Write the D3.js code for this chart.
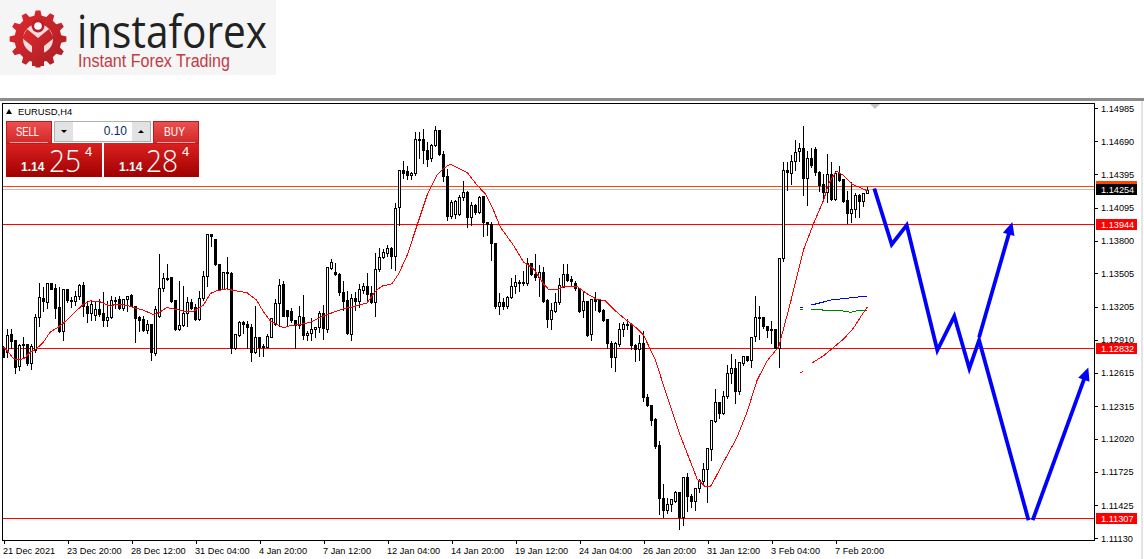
<!DOCTYPE html>
<html><head><meta charset="utf-8">
<script src="https://cdn.jsdelivr.net/npm/d3@7"></script>
<style>
html,body{margin:0;padding:0;background:#fff;overflow:hidden}
svg{display:block}
text{font-family:"Liberation Sans",Arial,sans-serif}
</style></head><body><svg id="c" width="1144" height="559"></svg>
<script>
// Values are points above 1.11000 (1 point = 0.00001)
const base = 1.11;
const open = [1845,1800,1959,1905,1671,1869,1866,1701,1815,2109,
2280,2241,2415,2370,2199,1980,2364,2265,2250,2295,
2400,2211,2145,2130,2181,2145,2079,2109,2265,2274,
2190,2271,2310,2211,2109,2091,1995,2046,1791,2115,
2370,2454,2466,2259,2004,2034,2145,2244,2199,2094,
2280,2481,2856,2805,2589,2361,2517,2505,1830,1950,
2061,2046,2019,1794,1929,1851,1845,1929,2049,2235,
2409,2175,2163,2085,2040,2112,1947,1962,1998,2016,
2142,2001,2553,2511,2496,2337,2262,1956,2277,2256,
2352,2388,2322,2247,2538,2652,2682,2727,2661,3093,
3432,3417,3387,3402,3708,3708,3606,3537,3657,3783,
3576,3378,3012,3036,3036,3186,3231,3006,3111,3048,
3192,2961,2943,2778,2211,2244,2211,2292,2391,2421,
2427,2412,2592,2496,2466,2511,2262,2091,2166,2241,
2382,2493,2448,2418,2367,2172,2253,1956,2273,2261,
2171,2093,1877,1751,1871,2003,2051,2045,1862,1823,
1877,1391,1322,1193,962,482,383,437,461,536,
317,677,506,455,572,641,743,923,1181,1343,
1253,1403,1607,1652,1442,1697,1763,1727,1937,2111,
2111,2033,1999,2003,1835,2642,3431,3401,3512,3596,
3626,3356,3536,3617,3413,3305,3227,3392,3167,3401,
3347,3161,3047,3077,3206,3146,3221];
const high = [1860,2010,2010,1905,1875,1935,1875,1875,2145,2421,
2385,2415,2415,2415,2385,2361,2370,2301,2355,2415,
2430,2265,2265,2265,2280,2340,2259,2310,2301,2310,
2280,2310,2325,2211,2130,2130,2091,2055,2220,2685,
2511,2595,2466,2265,2445,2400,2295,2280,2235,2355,
2535,2856,2865,2805,2595,2520,2655,2520,1959,2085,
2085,2085,2055,2220,1941,1875,1965,2100,2280,2460,
2445,2181,2199,2091,2220,2316,1992,2112,2028,2172,
2226,2571,2643,2601,2517,2442,2352,2322,2346,2412,
2421,2511,2397,2691,2742,2727,2766,2748,3138,3438,
3522,3477,3417,3777,3777,3807,3687,3672,3828,3792,
3606,3447,3168,3168,3216,3342,3252,3147,3132,3207,
3207,2967,2967,2778,2337,2292,2307,2472,2496,2448,
2532,2646,2607,2682,2586,2571,2277,2247,2337,2466,
2592,2592,2487,2442,2373,2352,2262,2277,2342,2282,
2192,2102,1907,1892,2063,2072,2102,2057,1877,1961,
1997,1427,1331,1211,1007,617,491,482,557,542,
683,722,527,572,662,812,932,1193,1472,1352,
1451,1691,1787,1742,1712,1772,1772,1937,2303,2213,
2117,2042,2087,2012,2636,3512,3506,3572,3710,3680,
3836,3611,3635,3641,3431,3401,3581,3506,3431,3476,
3356,3245,3326,3227,3221,3227,3287];
const low = [1749,1755,1830,1605,1635,1740,1680,1641,1800,2025,
2160,2190,2364,2100,1971,1905,2241,2199,2220,2271,
2115,2061,2085,2085,2121,2025,2025,2100,2190,2184,
2175,2160,2205,1890,1980,1980,1965,1725,1770,2109,
2340,2445,2241,1995,1995,2025,2025,2181,2085,2085,
2265,2385,2751,2580,2355,2361,2370,1791,1821,1941,
1965,1830,1719,1785,1761,1761,1845,1929,2040,2025,
2115,2040,2061,1830,2010,1917,1902,1908,1932,1977,
1917,1977,2538,2487,2307,2172,1956,1902,2172,2196,
2322,2262,2232,2118,2526,2637,2658,2547,2532,2937,
3357,3348,3348,3387,3537,3492,3468,3507,3648,3567,
3327,2976,2997,2997,3027,3162,2916,2937,3036,3042,
2838,2847,2622,2187,2136,2178,2187,2277,2322,2346,
2397,2397,2487,2442,2298,2247,2016,1998,2157,2226,
2376,2436,2391,2352,2157,2106,1938,1908,2171,2153,
2072,1832,1658,1622,1853,1937,2003,1823,1712,1727,
1352,1316,1142,932,341,317,353,371,452,212,
242,371,407,377,542,602,452,827,1172,1202,
1241,1382,1517,1337,1421,1682,1712,1658,1892,1913,
2012,1928,1877,1832,1661,2615,3251,3305,3431,3506,
3206,3110,3455,3386,3236,3146,3137,3161,3161,3326,
3137,2957,2966,3011,3005,3107,3221];
const close = [1755,1950,1899,1665,1860,1860,1701,1851,2109,2289,
2250,2415,2364,2190,1980,2361,2259,2250,2295,2400,
2205,2145,2229,2181,2139,2079,2109,2265,2259,2190,
2274,2301,2211,2100,2079,1995,2046,1794,2181,2370,
2460,2460,2250,2004,2034,2145,2244,2190,2094,2280,
2481,2856,2835,2589,2364,2514,2505,1830,1959,2064,
2046,2019,1794,1929,1845,1845,1935,2100,2235,2400,
2121,2121,2085,2040,2121,1947,1968,1998,2016,2142,
2007,2556,2601,2493,2337,2256,1962,2277,2256,2358,
2388,2316,2247,2538,2646,2691,2727,2661,3087,3432,
3402,3381,3402,3708,3705,3606,3528,3657,3783,3576,
3372,3012,3141,3147,3186,3231,3006,3111,3048,3186,
2958,2940,2778,2208,2247,2211,2292,2391,2427,2427,
2412,2592,2496,2466,2511,2256,2091,2172,2241,2397,
2493,2442,2436,2367,2166,2253,1947,2268,2252,2162,
2087,1877,1751,1877,2003,2051,2042,1862,1823,1877,
1391,1322,1187,956,488,383,437,473,536,317,
677,506,461,572,647,743,932,1187,1343,1253,
1403,1607,1652,1442,1706,1763,1721,1931,2111,2108,
2027,1991,1991,1832,2636,3431,3410,3512,3590,3626,
3356,3536,3476,3407,3296,3227,3392,3170,3401,3341,
3152,3047,3077,3206,3146,3221,3248];

// Moving average: [bar index, points]
const maPoints = [[0,1845],[1.25,1800],[2.5,1740],[4.2,1731],[5.4,1749],[6.7,1800],[8,1821],[10,1890],[11.7,1980],[13.75,2025],
[15.8,2085],[17.9,2160],[20,2229],[21.7,2259],[24.2,2250],[26.7,2211],[28,2229],[30.8,2220],[32.5,2199],[35,2175],
[37.5,2136],[39.2,2160],[40.8,2199],[43,2184],[45,2166],[47.5,2166],[50,2220],[51.7,2325],[53.3,2349],[55.8,2367],
[57.5,2352],[60.8,2334],[63.3,2265],[65,2160],[66.7,2079],[70,2016],[71.7,2037],[73.8,2046],[76.7,2067],[79.2,2112],
[82.5,2157],[85,2187],[87.5,2208],[90.9,2241],[93,2346],[94.6,2391],[97.1,2412],[98.8,2502],[100.9,2667],[103.4,2937],
[105.9,3207],[108.4,3387],[110,3447],[111.7,3486],[113.4,3453],[115.9,3411],[118.4,3297],[120.5,3216],[122.5,3072],[124.2,2922],
[127.5,2757],[130,2607],[132.5,2547],[135,2412],[136.3,2361],[138.4,2358],[140,2388],[143.4,2388],[145.9,2322],[148.4,2271],
[150.45,2261],[152.95,2171],[155.45,2093],[158.4,2012],[160,1952],[163,1727],[165,1502],[167.1,1277],[169.2,1052],[171.3,857],
[173.4,662],[175.45,593],[176.9,599],[180,812],[183.4,1037],[185.9,1262],[188.4,1547],[190.9,1721],[193.8,1847],[196.7,2237],
[200,2717],[202.5,2951],[205,3161],[206.3,3311],[208.2,3422],[210,3386],[212.1,3305],[214.2,3275],[216,3245]];

// Indicator fragments near the last bars
const blueDash = [[199,2201],[199.9,2201]];
const blueCurve = [[202,2222],[204.7,2246],[207,2267],[210,2279],[213,2291],[216,2303]];
const greenDash = [[199,2186],[199.9,2186]];
const greenCurve = [[202,2186],[204.6,2180],[205,2171],[210,2168],[211.9,2156],[213,2168],[216,2171]];
const redDash = [[199,1610],[199.9,1625]];
const redCurve = [[202,1700],[205,1766],[207.5,1841],[210,1916],[212.5,2015],[214.2,2111],[216,2207]];

// Hand-drawn forecast
const forecastA = [[217.7,3267],[222.05,2765],[225.8,2938],[233.45,1816],[237.7,2121],[241.45,1652],[243.9,1906],[256.25,292]];
const forecastB = [[243.9,1933],[252.2,2967]];
const forecastC = [[257.3,292],[271.2,1661]];

const levels = [1.13944,1.12832,1.11307];
const askPrice = 1.14284, bidPrice = 1.14254;
const priceTicks = [1.14985,1.14690,1.14395,1.14095,1.13800,1.13505,1.13205,1.12910,1.12615,1.12315,1.12020,1.11725,1.11425,1.11130];
const timeIdx = [0,16,32,48,64,80,96,112,128,144,160,176,192,208];
const timeLabels = ["21 Dec 2021","23 Dec 20:00","28 Dec 12:00","31 Dec 04:00","4 Jan 20:00","7 Jan 12:00","12 Jan 04:00","14 Jan 20:00","19 Jan 12:00","24 Jan 04:00","26 Jan 20:00","31 Jan 12:00","3 Feb 04:00","7 Feb 20:00"];

const svg = d3.select("#c");
const pr = p => base + p/1e5;
const x = d3.scaleLinear().domain([0,216]).range([3.5,867.5]);
const y = d3.scaleLinear().domain([1.13944,1.11307]).range([224.5,518.5]);
const cy = v => Math.floor(y(v)) + .5;

// ---- logo ----
const logo = svg.append("g");
logo.append("rect").attr("width",276).attr("height",75).attr("fill","#f5f5f5");
const defs = svg.append("defs");
const g1 = defs.append("linearGradient").attr("id","gear").attr("x1",0).attr("y1",0).attr("x2",1).attr("y2",1);
g1.append("stop").attr("offset",0).attr("stop-color","#e02a2e");
g1.append("stop").attr("offset",1).attr("stop-color","#a81e24");
const gearPts = [], teeth = 12;
for (let t=0;t<teeth;t++){
  const a = t/teeth*2*Math.PI - Math.PI/2, w = 2*Math.PI/teeth;
  [[-.30,23.5],[-.16,28.5],[.16,28.5],[.30,23.5]].forEach(([f,r]) => gearPts.push([38+r*Math.cos(a+f*w), 39+r*Math.sin(a+f*w)]));
}
logo.append("polygon").attr("points",gearPts.join(" ")).attr("fill","url(#gear)");
logo.append("circle").attr("cx",38).attr("cy",39).attr("r",15).attr("fill","#f4dcdc");
logo.append("path").attr("d","M32 66 L32 46 L22 38 L27 29 L38 38 L49 29 L54 38 L44 46 L44 66 Z").attr("fill","url(#gear)");
logo.append("circle").attr("cx",38).attr("cy",26).attr("r",6.5).attr("fill","#b8202a");
logo.append("circle").attr("cx",38).attr("cy",26).attr("r",3.8).attr("fill","#fff");
logo.append("text").attr("x",77).attr("y",48).attr("textLength",190).attr("lengthAdjust","spacingAndGlyphs")
  .attr("font-size",46).attr("fill","#222").style("font-family","'Open Sans'").style("font-weight",400).text("instaforex");
logo.append("text").attr("x",78).attr("y",67).attr("textLength",152).attr("lengthAdjust","spacingAndGlyphs")
  .attr("font-size",17.5).attr("fill","#c23a44").style("font-family","'Liberation Sans'").text("Instant Forex Trading");

// ---- frame ----
svg.append("rect").attr("x",0).attr("y",98).attr("width",1144).attr("height",3).attr("fill","#8c8c8c");
svg.append("rect").attr("x",1141).attr("y",101).attr("width",2).attr("height",458).attr("fill","#e4e4e4");
const frame = svg.append("g").attr("shape-rendering","crispEdges");
frame.append("line").attr("x1",2).attr("x2",1095).attr("y1",103.5).attr("y2",103.5).attr("stroke","#000");
frame.append("line").attr("x1",2.5).attr("x2",2.5).attr("y1",103).attr("y2",541).attr("stroke","#000");
frame.append("line").attr("x1",1094.5).attr("x2",1094.5).attr("y1",103).attr("y2",541).attr("stroke","#000");
svg.append("path").attr("d","M870 104 L880 104 L875 109 Z").attr("fill","#c4c4c4");

// ---- horizontal lines, behind the candles ----
const hl = svg.append("g").attr("shape-rendering","crispEdges");
hl.selectAll("line.lv").data(levels).join("line").attr("class","lv").attr("x1",3).attr("x2",1094)
  .attr("y1",d=>cy(d)).attr("y2",d=>cy(d)).attr("stroke","#ff0000");
hl.append("line").attr("x1",3).attr("x2",1094).attr("y1",cy(askPrice)).attr("y2",cy(askPrice)).attr("stroke","#ff4500");
hl.append("line").attr("x1",3).attr("x2",1094).attr("y1",cy(bidPrice)).attr("y2",cy(bidPrice)).attr("stroke","#c0c0c0");

// ---- candles ----
const bars = d3.range(open.length);
const cg = svg.append("g").attr("shape-rendering","crispEdges");
cg.selectAll("line").data(bars).join("line")
  .attr("x1",i=>x(i)).attr("x2",i=>x(i))
  .attr("y1",i=>cy(pr(high[i]))).attr("y2",i=>cy(pr(low[i]))).attr("stroke","#000");
cg.selectAll("rect").data(bars).join("rect")
  .attr("x",i=>x(i)-1).attr("width",2)
  .attr("y",i=>cy(pr(Math.max(open[i],close[i]))))
  .attr("height",i=>Math.max(1,cy(pr(Math.min(open[i],close[i])))-cy(pr(Math.max(open[i],close[i])))))
  .attr("fill",i=>close[i]>open[i]?"#fff":"#000").attr("stroke","#000");

// ---- moving average & indicators ----
const ln = d3.line().x(d=>x(d[0])).y(d=>y(pr(d[1])));
const thin = (d,c) => svg.append("path").attr("d",ln(d)).attr("fill","none").attr("stroke",c).attr("stroke-width",1).attr("shape-rendering","crispEdges");
thin(maPoints,"#ff0000");
thin(blueDash,"#0000ff"); thin(blueCurve,"#0000ff");
thin(greenDash,"#008000"); thin(greenCurve,"#008000");
thin(redDash,"#ff0000"); thin(redCurve,"#ff0000");

// ---- forecast ----
const thick = d => svg.append("path").attr("d",ln(d)).attr("fill","none").attr("stroke","#0000ff").attr("stroke-width",3.8).attr("stroke-linejoin","miter");
thick(forecastA);
const arrow = d => {
  const [a,b] = d, tx=x(b[0]), ty=y(pr(b[1])), ax=x(a[0]), ay=y(pr(a[1]));
  const L=Math.hypot(tx-ax,ty-ay), ux=(tx-ax)/L, uy=(ty-ay)/L;
  const bx=tx-ux*13, by=ty-uy*13;
  svg.append("path").attr("d",ln([a,[a[0]+(b[0]-a[0])*(1-8/L),a[1]+(b[1]-a[1])*(1-8/L)]])).attr("fill","none").attr("stroke","#0000ff").attr("stroke-width",3.8);
  svg.append("path").attr("d",`M${tx} ${ty} L${bx-uy*6} ${by+ux*6} L${bx+uy*6} ${by-ux*6} Z`).attr("fill","#0000ff");
};
arrow(forecastB); arrow(forecastC);

// ---- axes ----
const yAxis = d3.axisRight(y).tickValues(priceTicks).tickSize(3).tickPadding(3).tickFormat(d3.format(".5f"));
const ga = svg.append("g").attr("transform","translate(1095,0)").call(yAxis);
ga.select(".domain").remove();
ga.selectAll("line").attr("stroke","#000").attr("shape-rendering","crispEdges");
ga.selectAll("text").attr("fill","#000").style("font-family","'Liberation Sans'").attr("font-size",9.2);
const xAxis = d3.axisBottom(x).tickValues(timeIdx).tickSize(3).tickPadding(3).tickFormat((d,i)=>timeLabels[i]);
const gx = svg.append("g").attr("transform","translate(0,541)").call(xAxis);
gx.select(".domain").attr("stroke","#000").attr("d","M2,-0.5H1095").attr("shape-rendering","crispEdges");
gx.selectAll("line").attr("stroke","#000").attr("shape-rendering","crispEdges");
gx.selectAll("text").attr("fill","#000").attr("text-anchor","start").attr("dx",-1).style("font-family","'Liberation Sans'").attr("font-size",9.2);

// ---- price tags ----
const tag = (p,fill,fg) => {
  const g = svg.append("g"), c = y(p);
  g.append("rect").attr("x",1096).attr("y",Math.round(c-5.5)).attr("width",41).attr("height",11).attr("fill",fill).attr("shape-rendering","crispEdges");
  g.append("text").attr("x",1101).attr("y",c+3.5).attr("font-size",9.2).attr("fill",fg).text(p.toFixed(5));
};
tag(askPrice,"#ff4500","#fff");
tag(bidPrice,"#000","#fff");
levels.forEach(p=>tag(p,"#ff0000","#fff"));

// ---- chart title ----
svg.append("path").attr("d","M6 114 L12 114 L9 109 Z").attr("fill","#000");
svg.append("text").attr("x",18).attr("y",115).attr("font-size",9.4).attr("fill","#000").text("EURUSD,H4");

// ---- one-click panel ----
const grad = (id,a,b) => { const g=defs.append("linearGradient").attr("id",id).attr("x1",0).attr("y1",0).attr("x2",0).attr("y2",1);
  g.append("stop").attr("offset",0).attr("stop-color",a); g.append("stop").attr("offset",1).attr("stop-color",b); };
grad("btn","#ee5050","#d02828"); grad("pr","#dc2020","#a00000");
const panel = svg.append("g");
const box = (xx,yy,w,h,f,s) => panel.append("rect").attr("x",xx).attr("y",yy).attr("width",w).attr("height",h).attr("fill",f).attr("stroke",s||"none");
box(6,143,96,34,"url(#pr)"); box(104,143,95,34,"url(#pr)");
box(6,121,46,22,"url(#btn)"); box(153,121,46,22,"url(#btn)");
box(6.5,121.5,45,22,"none","#c01818"); box(153.5,121.5,45,22,"none","#c01818");
panel.append("line").attr("x1",10).attr("x2",48).attr("y1",142.5).attr("y2",142.5).attr("stroke","#f3a0a0");
panel.append("line").attr("x1",157).attr("x2",195).attr("y1",142.5).attr("y2",142.5).attr("stroke","#f3a0a0");
box(54.5,121.5,96,20,"#fff","#b0b0b0");
box(55,122,18,19,"#e2e2e2"); box(132,122,18,19,"#e2e2e2");
panel.append("path").attr("d","M61 130 L67 130 L64 133 Z").attr("fill","#000");
panel.append("path").attr("d","M138 133 L144 133 L141 130 Z").attr("fill","#000");
const ptxt=(xx,yy,s,t,o={})=>{const e=panel.append("text").attr("x",xx).attr("y",yy).attr("font-size",s).attr("fill","#fff").text(t);
  if(o.len) e.attr("textLength",o.len).attr("lengthAdjust","spacingAndGlyphs");
  if(o.w) e.style("font-weight",o.w);
  if(o.f) e.style("font-family",o.f);
  return e;};
ptxt(16,136,12,"SELL",{len:23}); ptxt(164,136,12,"BUY",{len:21});
panel.append("text").attr("x",127).attr("y",135).attr("font-size",12).attr("fill","#0a2a60").attr("text-anchor","end").text("0.10");
ptxt(21,171,12,"1.14",{w:700}); ptxt(49,172,31,"25",{len:32,w:300,f:"'Open Sans'"}); ptxt(85,156,13,"4");
ptxt(119,171,12,"1.14",{w:700}); ptxt(146,172,31,"28",{len:32,w:300,f:"'Open Sans'"}); ptxt(182,156,13,"4");
</script></body></html>
